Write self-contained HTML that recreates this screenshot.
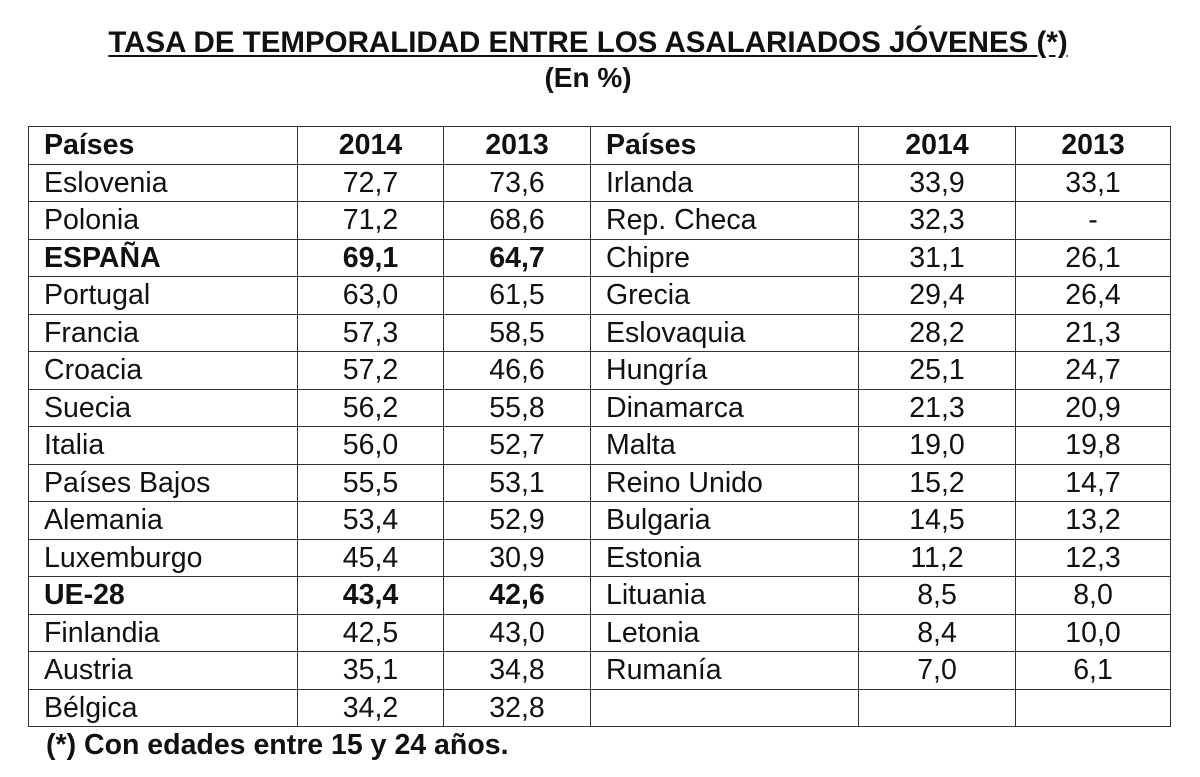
<!DOCTYPE html>
<html><head><meta charset="utf-8"><style>
body{margin:0;width:1200px;height:777px;background:#fff;font-family:"Liberation Sans",Arial,sans-serif;color:#111;position:relative;overflow:hidden}
.t{position:absolute;left:0;width:1200px;text-align:center;font-weight:bold}
table{position:absolute;left:28px;top:126px;border-collapse:collapse;table-layout:fixed}
td{border:1.5px solid #333;height:36.5px;padding:0;font-size:28.5px;line-height:28px;text-align:center}
td.n{text-align:left;padding-left:15px}
tr.b td,tr.h td{font-weight:bold}
</style></head><body>
<div class="t" style="top:26px;font-size:29.5px;left:-12px"><span style="text-decoration:underline;text-underline-offset:3px">TASA DE TEMPORALIDAD ENTRE LOS ASALARIADOS JÓVENES (*)</span></div>
<div class="t" style="top:62px;font-size:28px;left:-12px">(En %)</div>
<table>
<colgroup><col style="width:269px"><col style="width:146px"><col style="width:147px"><col style="width:268px"><col style="width:157px"><col style="width:155px"></colgroup>
<tbody id="tb"></tbody></table>
<div style="position:absolute;left:46px;top:729px;font-size:28.5px;font-weight:bold">(*) Con edades entre 15 y 24 años.</div>
<script>
const left=[["Eslovenia","72,7","73,6"],["Polonia","71,2","68,6"],["ESPAÑA","69,1","64,7"],["Portugal","63,0","61,5"],["Francia","57,3","58,5"],["Croacia","57,2","46,6"],["Suecia","56,2","55,8"],["Italia","56,0","52,7"],["Países Bajos","55,5","53,1"],["Alemania","53,4","52,9"],["Luxemburgo","45,4","30,9"],["UE-28","43,4","42,6"],["Finlandia","42,5","43,0"],["Austria","35,1","34,8"],["Bélgica","34,2","32,8"]];
const right=[["Irlanda","33,9","33,1"],["Rep. Checa","32,3","-"],["Chipre","31,1","26,1"],["Grecia","29,4","26,4"],["Eslovaquia","28,2","21,3"],["Hungría","25,1","24,7"],["Dinamarca","21,3","20,9"],["Malta","19,0","19,8"],["Reino Unido","15,2","14,7"],["Bulgaria","14,5","13,2"],["Estonia","11,2","12,3"],["Lituania","8,5","8,0"],["Letonia","8,4","10,0"],["Rumanía","7,0","6,1"],["","",""]];
const tb=document.getElementById('tb');
function row(cells,cls){const tr=document.createElement('tr');if(cls)tr.className=cls;


cells.forEach((c,i)=>{const td=document.createElement('td');td.textContent=c;if(i%3==0)td.className='n';


if(cls==='mix'&&i<3)td.style.fontWeight='bold';tr.appendChild(td);});tb.appendChild(tr);}
row(["Países","2014","2013","Países","2014","2013"],"h");
for(let i=0;i<15;i++){const b=(left[i][0]==="ESPAÑA"||left[i][0]==="UE-28");row(left[i].concat(right[i]),b?"mix":"");}
</script>
</body></html>
